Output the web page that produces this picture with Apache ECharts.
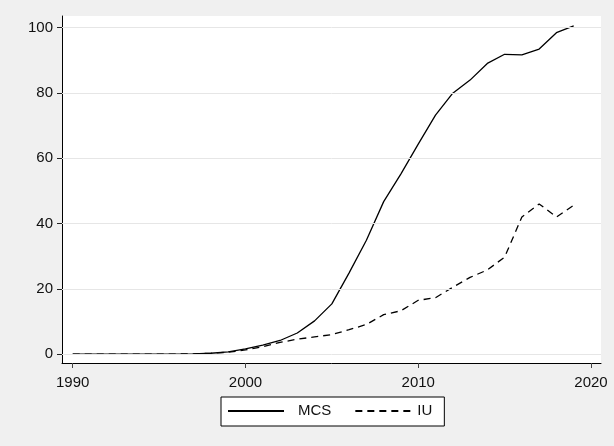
<!DOCTYPE html>
<html>
<head>
<meta charset="utf-8">
<script src="https://cdn.jsdelivr.net/npm/echarts@6/dist/echarts.min.js"></script>
<style>
html,body{margin:0;padding:0;background:#f0f0f0;}
#chart{width:614px;height:446px;}
</style>
</head>
<body>
<div id="chart"></div>
<script>
const years = [1990,1991,1992,1993,1994,1995,1996,1997,1998,1999,2000,2001,2002,2003,2004,2005,2006,2007,2008,2009,2010,2011,2012,2013,2014,2015,2016,2017,2018,2019];
const mcs = [0,0,0,0,0,0,0.05,0.1,0.3,0.7,1.6,2.8,4.2,6.5,10.2,15.4,24.9,34.9,46.7,55.2,64.3,73.2,79.9,83.9,89.0,91.8,91.6,93.4,98.4,100.5];
const iu = [0,0,0,0,0,0,0.05,0.1,0.3,0.6,1.3,2.3,3.6,4.6,5.3,6.0,7.5,9.1,12.1,13.3,16.5,17.3,20.5,23.5,25.8,29.7,42.0,46.0,42.0,45.6];
const xTicks = [1990,2000,2010,2020];
const yTicks = [0,20,40,60,80,100];
const seriesNames = ['MCS','IU'];

const font = 'Liberation Sans, Arial, sans-serif';
const chart = echarts.init(document.getElementById('chart'));
chart.setOption({
  animation: false,
  backgroundColor: '#f0f0f0',
  grid: {left: 62, right: 13, top: 16, bottom: 83, show: true, backgroundColor: '#ffffff', borderWidth: 0},
  xAxis: {
    type: 'value', min: 1989.38, max: 2020.58,
    axisLine: {show: true, onZero: false, lineStyle: {color: '#000', width: 1}},
    axisTick: {show: true, customValues: xTicks, length: 5, lineStyle: {color: '#444'}},
    axisLabel: {customValues: xTicks, margin: 12, color: '#111', fontSize: 15, fontFamily: font,
      formatter: v => String(Math.round(v))},
    splitLine: {show: false}
  },
  yAxis: {
    type: 'value', min: -2.69, max: 103.52,
    axisLine: {show: true, lineStyle: {color: '#000', width: 1}},
    axisTick: {show: true, customValues: yTicks, length: 5, lineStyle: {color: '#222'}},
    axisLabel: {customValues: yTicks, margin: 9, color: '#111', fontSize: 15, fontFamily: font,
      formatter: v => String(Math.round(v))},
    splitLine: {show: false}
  },
  legend: {
    left: 221, top: 397,
    orient: 'horizontal',
    backgroundColor: '#fff', borderColor: '#000', borderWidth: 1, borderRadius: 0,
    padding: [6, 12, 7, 6],
    itemWidth: 56, itemHeight: 14, itemGap: 23,
    itemStyle: {opacity: 0},
    textStyle: {fontSize: 15, fontFamily: font, color: '#111', lineHeight: 16},
    data: [
      {name: seriesNames[0], textStyle: {padding: [0,0,0,9]}},
      {name: seriesNames[1], textStyle: {padding: [0,0,0,1]}}
    ]
  },
  series: [
    {
      type: 'line', name: '_grid', z: 1, data: [], silent: true,
      markLine: {
        silent: true, symbol: ['none','none'], label: {show: false},
        lineStyle: {color: '#e6e6e6', width: 1, type: 'solid'},
        emphasis: {disabled: true},
        data: yTicks.map(v => ({yAxis: v}))
      }
    },
    {
      type: 'line', name: seriesNames[0], z: 3, symbol: 'none',
      lineStyle: {color: '#000', width: 1.3, type: 'solid'},
      itemStyle: {color: '#000'},
      data: years.map((y, i) => [y, mcs[i]])
    },
    {
      type: 'line', name: seriesNames[1], z: 3, symbol: 'none',
      lineStyle: {color: '#000', width: 1.3, type: [7, 5]},
      itemStyle: {color: '#000'},
      data: years.map((y, i) => [y, iu[i]])
    }
  ]
});
</script>
</body>
</html>
